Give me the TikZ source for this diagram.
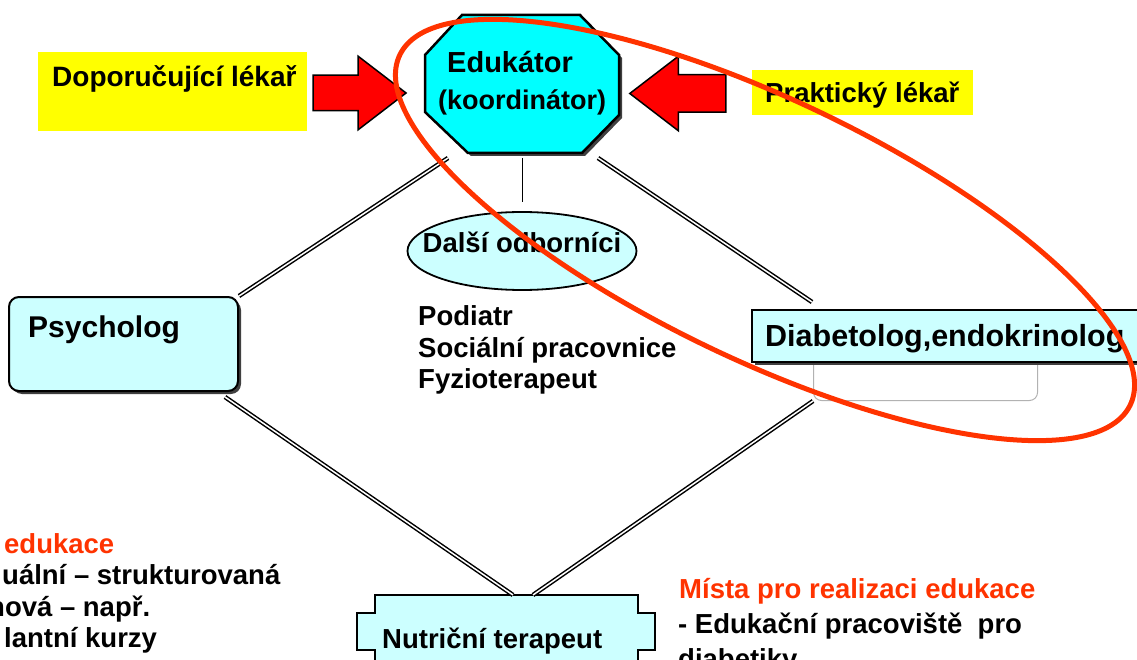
\documentclass[tikz,border=0pt]{standalone}
\usepackage{fontspec}
\setmainfont{Liberation Sans}
\usetikzlibrary{shapes.arrows,shapes.geometric,shadows}

\definecolor{educyan}{RGB}{0,255,255}
\definecolor{boxcyan}{RGB}{204,255,255}
\definecolor{notered}{RGB}{255,51,0}
\definecolor{pushred}{RGB}{255,0,0}
\definecolor{tagyellow}{RGB}{255,255,0}

\newcommand{\fsz}[1]{\fontsize{#1}{#1}\selectfont\bfseries}

\begin{document}
\begin{tikzpicture}[x=1pt,y=-1pt,
	every node/.style={inner sep=0pt},
	txt/.style={anchor=base west,font=\fsz{27.5}},
	tag/.style={fill=tagyellow,anchor=north west},
	push/.style={single arrow,draw=black,line width=1.5pt,fill=pushred,
		single arrow tip angle=75,single arrow head indent=0pt},
	cbox/.style={draw=black,line width=2pt,fill=boxcyan},
	shade/.style={drop shadow={shadow xshift=3pt,shadow yshift=-3pt,fill=black!75,opacity=1}},
	link/.style={draw=black,line width=1.5pt,double=white,double distance=1.5pt},
	ring/.style={draw=notered,line width=5pt}
	]
	\useasboundingbox (0,0) rectangle (1137,660);
	\clip (0,0) rectangle (1137,660);

	% referring doctors
	\node[tag,minimum width=269pt,minimum height=79pt] (docbox) at (38,52) {};
	\node[txt,font=\fsz{28}] (doctxt) at (52,87) {Doporučující lékař};
	\node[tag,minimum width=221pt,minimum height=45pt] (prakbox) at (752,70) {};
	\node[txt] (praktxt) at (765,103) {Praktický lékař};

	\node[push,minimum height=93pt,single arrow head extend=19pt] (pushL) at (348,93) {\rule{0pt}{34pt}};
	\node[push,minimum height=96pt,single arrow head extend=18.5pt,shape border rotate=180] (pushR) at (690,93.5) {\rule{0pt}{36pt}};

	% educator
	\fill[black!75] (465,18) -- (583,18) -- (622,58) -- (622,118) -- (585,156) -- (471,156) -- (428,115) -- (428,58) -- cycle;
	\draw[fill=educyan,line width=2.5pt] (462,15) -- (580,15) -- (619,55) -- (619,115) -- (582,153) -- (468,153) -- (425,112) -- (425,55) -- cycle;
	\coordinate (edubot) at (522,153);
	\node[txt,font=\fsz{29}] (edu) at (447,73) {Edukátor};
	\node[txt,font=\fsz{27}] (koord) at (438,110) {(koordinátor)};

	% other specialists
	\node[ellipse,cbox,line width=1.8pt,minimum width=229pt,minimum height=78pt,font=\fsz{27.5}] (dalsi) at (522,251)
		{\raisebox{-2pt}[0pt][0pt]{\makebox[0pt]{Další odborníci}}};
	\node[txt] (podiatr) at (418,325) {Podiatr};
	\node[txt] (social) at (418,357) {Sociální pracovnice};
	\node[txt] (fyzio) at (418,388) {Fyzioterapeut};

	% team members
	\node[cbox,rounded corners=10pt,shade,minimum width=229pt,minimum height=94pt,anchor=north west] (psy) at (8,296) {};
	\node[txt,font=\fsz{30}] (psytxt) at (28,337) {Psycholog};

	\node[draw=black!30,line width=1pt,rounded corners=8pt,minimum width=224pt,minimum height=85pt,anchor=north west] (diabbg) at (813,315) {};
	\node[cbox,shade,minimum width=420pt,minimum height=52pt,anchor=north west] (diab) at (751,309) {};
	\node[txt,font=\fsz{30.5}] (diabtxt) at (765,346) {Diabetolog,endokrinolog};

	\draw[cbox] (375,720) -- (375,650) -- (357,650) -- (357,613) -- (375,613) -- (375,595)
		-- (638,595) -- (638,613) -- (655,613) -- (655,650) -- (638,650) -- (638,720) -- cycle;
	\coordinate (nutritop) at (506,595);
	\node[txt] (nutri) at (382,648) {Nutriční terapeut};

	% connections
	\draw[link] ([xshift=-74pt,yshift=-5pt]edubot) -- (psy.north east)
		([xshift=76pt,yshift=-5pt]edubot) -- ([xshift=61pt,yshift=7pt]diab.north west)
		([xshift=-14pt,yshift=-5pt]psy.south east) -- ([xshift=7pt]nutritop)
		(diabbg.south west) -- ([xshift=27pt]nutritop);
	\draw[line width=1pt,shorten <=5pt,shorten >=9pt] (edubot) -- (dalsi.north);

	% forms and places of education
	\node[txt,text=notered] (formy) at (4,553) {edukace};
	\node[txt] (indiv) at (2,584) {uální – strukturovaná};
	\node[txt] (skup) at (-12,616) {nová – např.};
	\node[txt] (kurzy) at (4,647) {lantní kurzy};

	\node[txt,text=notered] (mista) at (679,598) {Místa pro realizaci edukace};
	\node[txt] (pracov) at (678,633) {- Edukační pracoviště\ \ pro};
	\node[txt] (diabetiky) at (678,668) {diabetiky};

	% highlight
	\draw[ring,rotate around={-25.6:(765,230)}] (765,230) ellipse [x radius=405pt,y radius=130pt];
\end{tikzpicture}
\end{document}
